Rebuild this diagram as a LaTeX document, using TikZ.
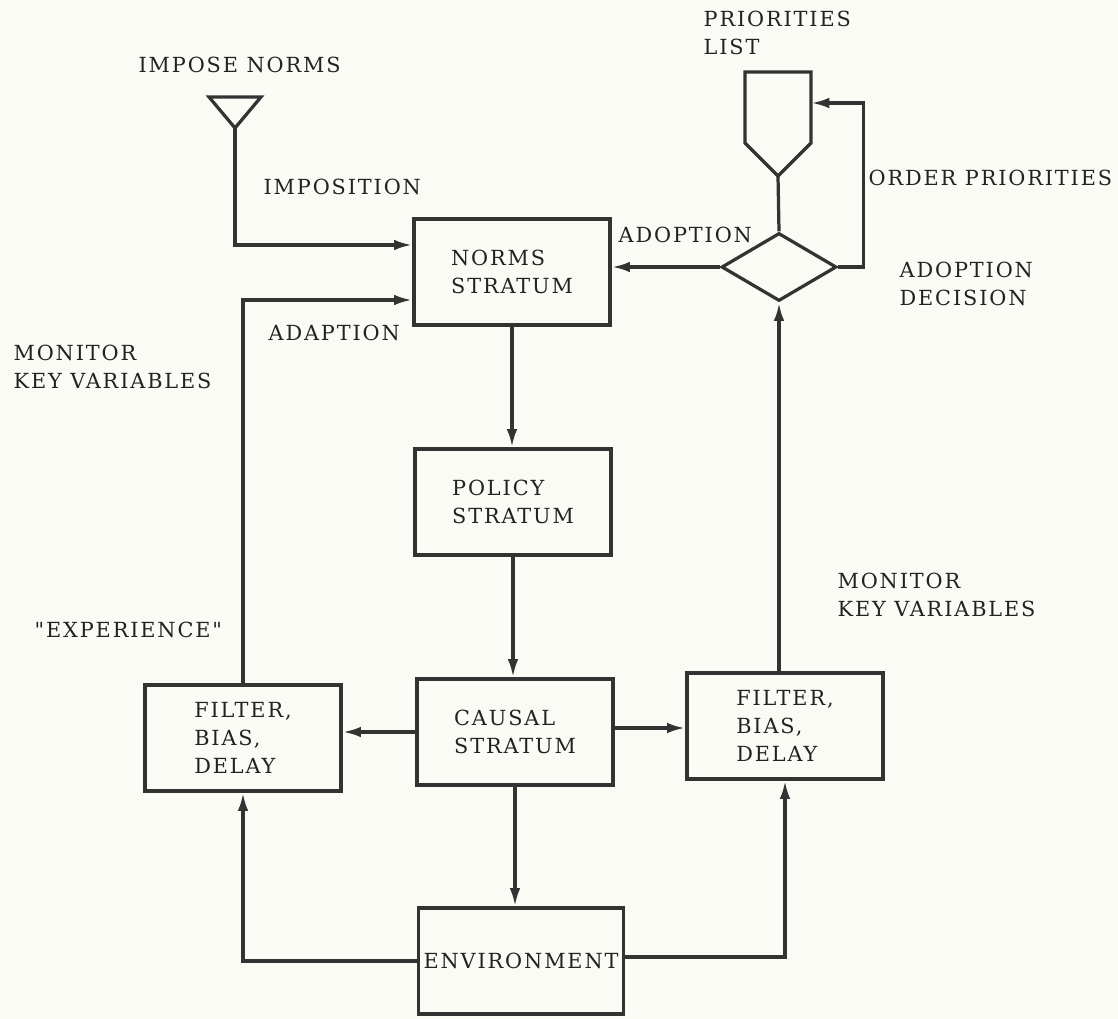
\documentclass[tikz,border=0pt]{standalone}
\usepackage{fontspec}
\newfontfamily\typeface[LetterSpace=9]{DejaVu Serif}
\usetikzlibrary{shapes.geometric,arrows.meta}
\definecolor{ink}{HTML}{333333}
\definecolor{type}{HTML}{222222}
\definecolor{paper}{HTML}{FBFBF6}

\begin{document}
\begin{tikzpicture}[x=0.025cm, y=-0.025cm,
    line width=2.3pt, ink,
    every node/.style={text=type, font=\typeface\fontsize{14.8}{20}\selectfont},
    stratum/.style={rectangle, draw, minimum width=4.9cm, minimum height=2.65cm, align=left},
    decision/.style={diamond, draw, minimum width=2.875cm, minimum height=1.7cm, inner sep=0pt},
    remark/.style={anchor=west, align=left, inner sep=0pt},
    flow/.style={-{Latex[length=13pt,width=7.5pt]}},
    ]
  \path[use as bounding box, fill=paper] (0,0) rectangle (1118,1019);

  % boxes
  \node[stratum] (norms) at (512,272) {NORMS\\STRATUM};
  \node[stratum] (policy) at (513,502) {POLICY\\STRATUM};
  \node[stratum] (causal) at (515,732) {CAUSAL\\STRATUM};
  \node[stratum] (env) at (521,961) {ENVIRONMENT};
  \node[stratum] (lfilt) at (243,738) {FILTER,\\BIAS,\\DELAY};
  \node[stratum] (rfilt) at (785,726) {FILTER,\\BIAS,\\DELAY};
  \node[decision] (adopt) at (779,267) {};

  % source and list
  \draw[line join=miter] (209,97) -- (261,97) -- (235,128) -- cycle;
  \coordinate (imp) at (235,128);
  \draw[line join=miter] (745,72) -- (811,72) -- (811,143) -- (778,176) -- (745,143) -- cycle;
  \coordinate (lsttip) at (778,176);
  \coordinate (lstin) at (811,103);

  % connectors
  \draw[flow] (imp) |- ([yshift=0.675cm]norms.west);
  \draw[flow] (lfilt.north) |- ([yshift=-0.7cm]norms.west);
  \draw[flow] (norms.south) -- (norms.south |- policy.north);
  \draw[flow] (policy.south) -- (policy.south |- causal.north);
  \draw[flow] (causal.south) -- (causal.south |- env.north);
  \draw[flow] (causal.west) -- (causal.west -| lfilt.east);
  \draw[flow] ([yshift=0.1cm]causal.east) -- ([yshift=0.1cm]causal.east -| rfilt.west);
  \draw[flow] (env.west) -| (lfilt.south);
  \draw[flow] ([yshift=0.1cm]env.east) -| (rfilt.south);
  \draw[flow] (adopt.south |- rfilt.north) -- (adopt.south);
  \draw[flow] (adopt.west) -- (adopt.west -| norms.east);
  \draw (lsttip) -- (adopt.north);
  \draw[flow] (adopt.east) -- ++(25,0) |- (lstin);

  % labels
  \node[remark] (impn) at (137,65) {IMPOSE NORMS};
  \node[remark] (impo) at (262,187) {IMPOSITION};
  \node[remark] (adap) at (267,333) {ADAPTION};
  \node[remark] (monl) at (12,367) {MONITOR\\KEY VARIABLES};
  \node[remark] (expr) at (33,630) {"EXPERIENCE"};
  \node[remark] (adop) at (617,235) {ADOPTION};
  \node[remark] (prio) at (702,33) {PRIORITIES\\LIST};
  \node[remark] (ordr) at (867,178) {ORDER PRIORITIES};
  \node[remark] (adec) at (898,284) {ADOPTION\\DECISION};
  \node[remark] (monr) at (836,595) {MONITOR\\KEY VARIABLES};
\end{tikzpicture}
\end{document}
